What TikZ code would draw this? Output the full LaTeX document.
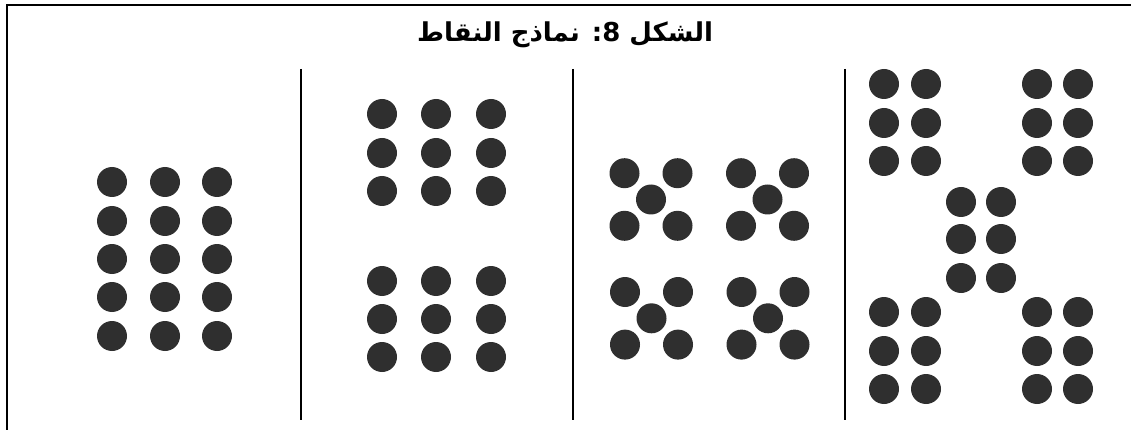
\documentclass[tikz,border=0pt]{standalone}
\usepackage{fontspec}
\newfontfamily\arabicfont[Script=Arabic]{DejaVu Sans}
\TeXXeTstate=1
\usetikzlibrary{positioning}
\definecolor{dotgray}{HTML}{2F2F2F}
\tikzset{
  dot/.style={fill=dotgray},
  sepline/.style={line width=2pt,black}
}

\begin{document}
\begin{tikzpicture}[x=1pt,y=-1pt]
  \useasboundingbox (0,0) rectangle (1131,430);
  \draw[line width=2pt] (1131,5) -- (7,5) -- (7,430);
  \node[font=\arabicfont\bfseries\fontsize{26}{30}\selectfont] (title) at (565,35)
    {\beginR الشكل 8: نماذج النقاط\endR};
  \foreach \x in {301,573,845}{
    \draw[sepline] (\x,69) -- (\x,420);
  }
  % panel 1: 3 x 5
  \foreach \x in {112,165,217}{
    \foreach \y in {182,221,259,297,336}{
      \fill[dot] (\x,\y) circle (15);
    }
  }
  % panel 2: two blocks of 3 x 3
  \foreach \x in {382,436,491}{
    \foreach \y in {114,153,191,281,319,357}{
      \fill[dot] (\x,\y) circle (15);
    }
  }
  % panel 3: four fives
  \foreach \cx/\cy in {651/199.5,767.5/199.5,651.5/318.3,768/318.3}{
    \fill[dot] (\cx,\cy) circle (15);
    \foreach \dx/\dy in {-26.5/-26.3,26.5/-26.3,-26.5/26.3,26.5/26.3}{
      \fill[dot] (\cx+\dx,\cy+\dy) circle (15);
    }
  }
  % panel 4: five pairs of three
  \foreach \x in {884,926,1037,1078}{
    \foreach \y in {84,123,161,312,351,389}{
      \fill[dot] (\x,\y) circle (15);
    }
  }
  \foreach \x in {961,1001}{
    \foreach \y in {202,239,278}{
      \fill[dot] (\x,\y) circle (15);
    }
  }
\end{tikzpicture}
\end{document}
